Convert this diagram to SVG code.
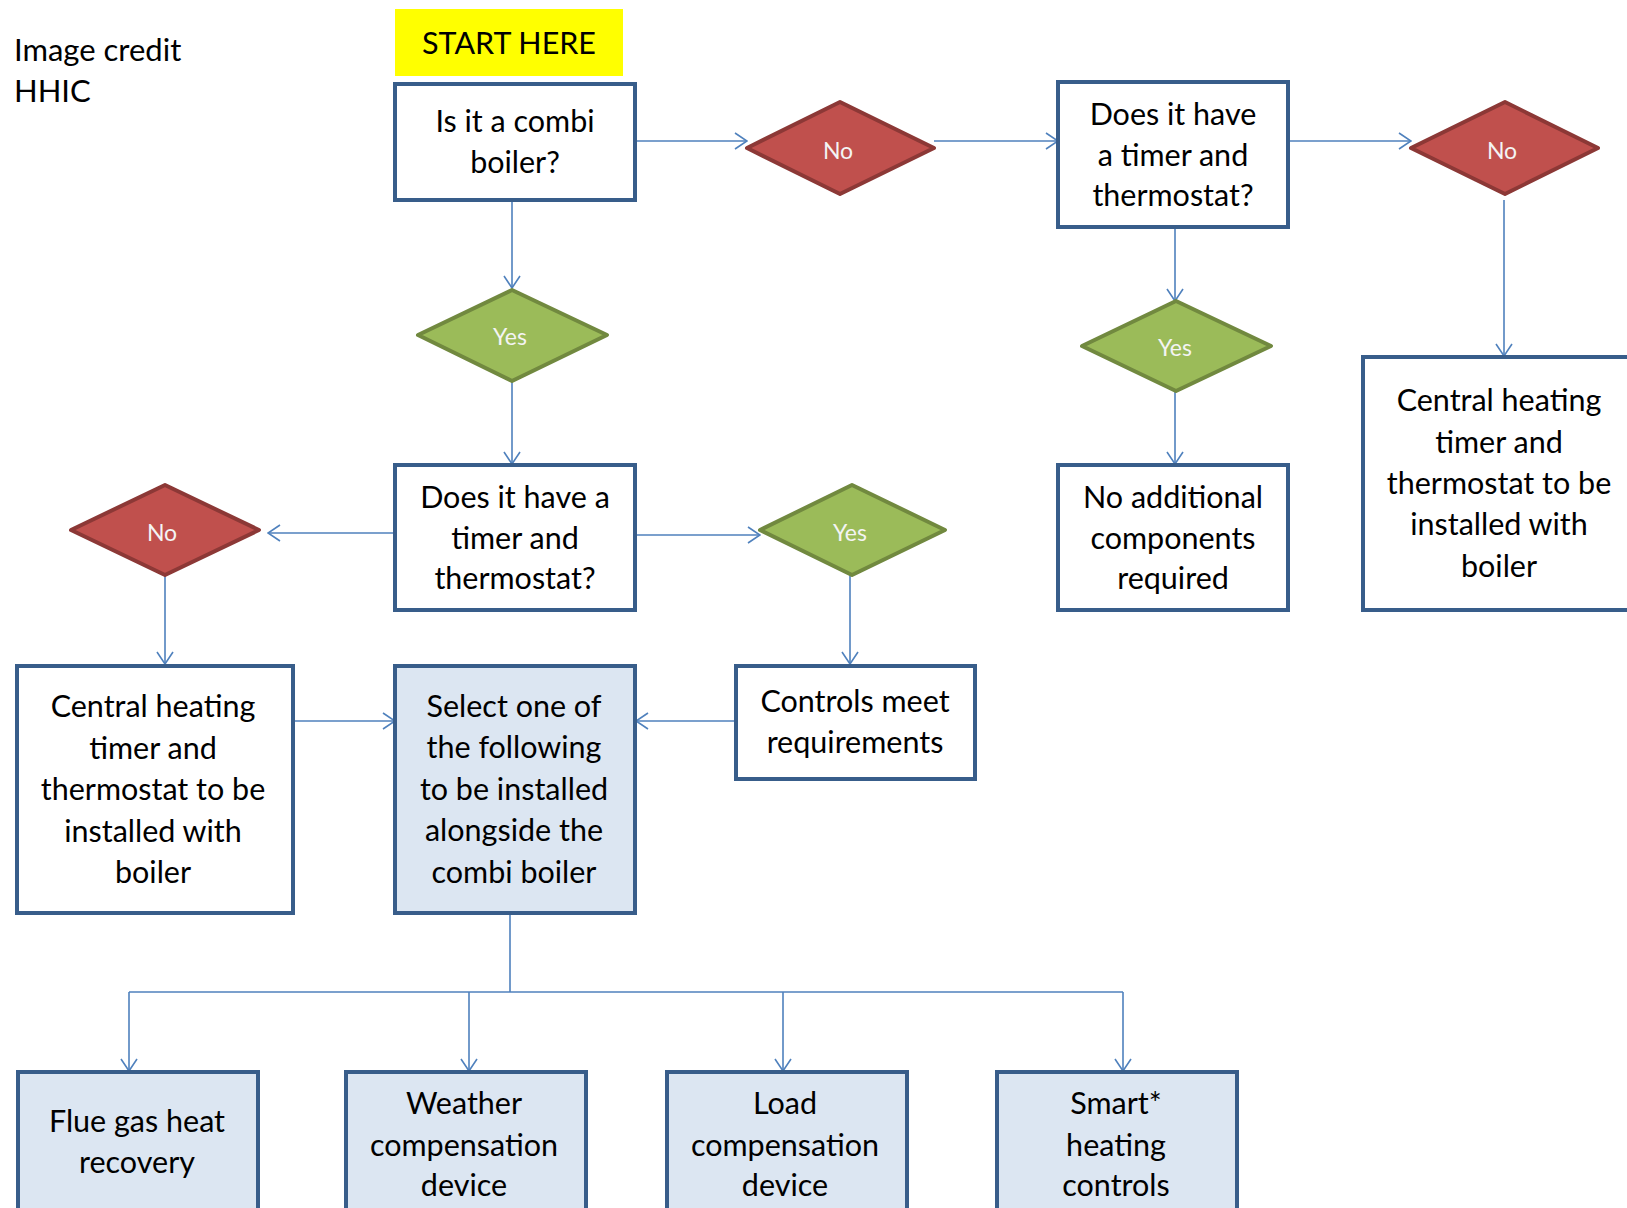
<svg xmlns="http://www.w3.org/2000/svg" width="1627" height="1208" viewBox="0 0 1627 1208">
<style>
.box{fill:#ffffff;stroke:#385d8a;stroke-width:4}
.sel{fill:#dce6f2;stroke:#385d8a;stroke-width:4}
.no{fill:#c0504d;stroke:#8c3836;stroke-width:4;stroke-linejoin:round}
.yes{fill:#9bbb59;stroke:#71893f;stroke-width:4;stroke-linejoin:round}
.t{font-family:Lato,"Liberation Sans",sans-serif;font-size:30.5px;fill:#000;text-anchor:middle}
.d{font-family:Lato,"Liberation Sans",sans-serif;font-size:23px;fill:#f4f4f4;text-anchor:middle}
.c{fill:none;stroke:#4f81bd;stroke-width:1.6}
.cr{font-family:Lato,"Liberation Sans",sans-serif;font-size:31px;fill:#000}
</style>
<defs>
<marker id="arr" viewBox="0 0 14 18" refX="13" refY="9" markerWidth="14" markerHeight="18" markerUnits="userSpaceOnUse" orient="auto">
<path d="M1,1 L13,9 L1,17" fill="none" stroke="#4f81bd" stroke-width="1.6"/>
</marker>
</defs>
<rect width="1627" height="1208" fill="#ffffff"/>
<g id="credit">
<text class="cr" x="14" y="61">Image credit</text>
<text class="cr" x="14" y="102">HHIC</text>
</g>
<g id="start">
<rect x="395" y="9" width="228" height="67" fill="#ffff00"/>
<text class="t" x="509" y="54">START HERE</text>
</g>
<g id="connectors">
<line class="c" x1="636" y1="141" x2="747" y2="141" marker-end="url(#arr)"/>
<line class="c" x1="934" y1="141" x2="1058" y2="141" marker-end="url(#arr)"/>
<line class="c" x1="1288" y1="141" x2="1411" y2="141" marker-end="url(#arr)"/>
<line class="c" x1="1504" y1="200" x2="1504" y2="356" marker-end="url(#arr)"/>
<line class="c" x1="1175" y1="227" x2="1175" y2="301" marker-end="url(#arr)"/>
<line class="c" x1="1175" y1="391" x2="1175" y2="464" marker-end="url(#arr)"/>
<line class="c" x1="512" y1="200" x2="512" y2="288" marker-end="url(#arr)"/>
<line class="c" x1="512" y1="381" x2="512" y2="464" marker-end="url(#arr)"/>
<line class="c" x1="395" y1="533" x2="268" y2="533" marker-end="url(#arr)"/>
<line class="c" x1="636" y1="535" x2="760" y2="535" marker-end="url(#arr)"/>
<line class="c" x1="165" y1="574" x2="165" y2="664" marker-end="url(#arr)"/>
<line class="c" x1="850" y1="574" x2="850" y2="664" marker-end="url(#arr)"/>
<line class="c" x1="293" y1="721" x2="395" y2="721" marker-end="url(#arr)"/>
<line class="c" x1="736" y1="721" x2="636" y2="721" marker-end="url(#arr)"/>
<polyline class="c" points="510,913 510,992"/>
<polyline class="c" points="129,992 1123,992"/>
<line class="c" x1="129" y1="992" x2="129" y2="1071" marker-end="url(#arr)"/>
<line class="c" x1="469" y1="992" x2="469" y2="1071" marker-end="url(#arr)"/>
<line class="c" x1="783" y1="992" x2="783" y2="1071" marker-end="url(#arr)"/>
<line class="c" x1="1123" y1="992" x2="1123" y2="1071" marker-end="url(#arr)"/>
</g>
<g id="combi">
<rect class="box" x="395" y="84" width="240" height="116"/>
<text class="t" x="515" y="132">Is it a combi</text>
<text class="t" x="515" y="173">boiler?</text>
</g>
<g id="no1">
<polygon class="no" points="747,148 840,102 934,148 840,194"/>
<text class="d" x="838" y="159">No</text>
</g>
<g id="timer2">
<rect class="box" x="1058" y="82" width="230" height="145"/>
<text class="t" x="1173" y="125">Does it have</text>
<text class="t" x="1173" y="166">a timer and</text>
<text class="t" x="1173" y="206">thermostat?</text>
</g>
<g id="no2">
<polygon class="no" points="1411,148 1505,102 1598,148 1505,194"/>
<text class="d" x="1502" y="159">No</text>
</g>
<g id="central2">
<rect class="box" x="1363" y="357" width="270" height="253"/>
<text class="t" x="1499" y="411">Central heating</text>
<text class="t" x="1499" y="453">timer and</text>
<text class="t" x="1499" y="494">thermostat to be</text>
<text class="t" x="1499" y="535">installed with</text>
<text class="t" x="1499" y="577">boiler</text>
</g>
<g id="yes2">
<polygon class="yes" points="1082,346 1176,301 1271,346 1176,391"/>
<text class="d" x="1175" y="356">Yes</text>
</g>
<g id="noadd">
<rect class="box" x="1058" y="465" width="230" height="145"/>
<text class="t" x="1173" y="508">No additional</text>
<text class="t" x="1173" y="549">components</text>
<text class="t" x="1173" y="589">required</text>
</g>
<g id="yes1">
<polygon class="yes" points="418,335 512,290 607,335 512,381"/>
<text class="d" x="510" y="345">Yes</text>
</g>
<g id="timer1">
<rect class="box" x="395" y="465" width="240" height="145"/>
<text class="t" x="515" y="508">Does it have a</text>
<text class="t" x="515" y="549">timer and</text>
<text class="t" x="515" y="589">thermostat?</text>
</g>
<g id="no3">
<polygon class="no" points="71,530 165,485 259,530 165,575"/>
<text class="d" x="162" y="541">No</text>
</g>
<g id="yes3">
<polygon class="yes" points="760,530 852,485 945,530 852,575"/>
<text class="d" x="850" y="541">Yes</text>
</g>
<g id="central1">
<rect class="box" x="17" y="666" width="276" height="247"/>
<text class="t" x="153" y="717">Central heating</text>
<text class="t" x="153" y="759">timer and</text>
<text class="t" x="153" y="800">thermostat to be</text>
<text class="t" x="153" y="842">installed with</text>
<text class="t" x="153" y="883">boiler</text>
</g>
<g id="select">
<rect class="sel" x="395" y="666" width="240" height="247"/>
<text class="t" x="514" y="717">Select one of</text>
<text class="t" x="514" y="758">the following</text>
<text class="t" x="514" y="800">to be installed</text>
<text class="t" x="514" y="841">alongside the</text>
<text class="t" x="514" y="883">combi boiler</text>
</g>
<g id="controls">
<rect class="box" x="736" y="666" width="239" height="113"/>
<text class="t" x="855" y="712">Controls meet</text>
<text class="t" x="855" y="753">requirements</text>
</g>
<g id="flue">
<rect class="sel" x="18" y="1072" width="240" height="150"/>
<text class="t" x="137" y="1132">Flue gas heat</text>
<text class="t" x="137" y="1173">recovery</text>
</g>
<g id="weather">
<rect class="sel" x="346" y="1072" width="240" height="150"/>
<text class="t" x="464" y="1114">Weather</text>
<text class="t" x="464" y="1156">compensation</text>
<text class="t" x="464" y="1196">device</text>
</g>
<g id="load">
<rect class="sel" x="667" y="1072" width="240" height="150"/>
<text class="t" x="785" y="1114">Load</text>
<text class="t" x="785" y="1156">compensation</text>
<text class="t" x="785" y="1196">device</text>
</g>
<g id="smart">
<rect class="sel" x="997" y="1072" width="240" height="150"/>
<text class="t" x="1116" y="1114">Smart*</text>
<text class="t" x="1116" y="1156">heating</text>
<text class="t" x="1116" y="1196">controls</text>
</g>
</svg>
